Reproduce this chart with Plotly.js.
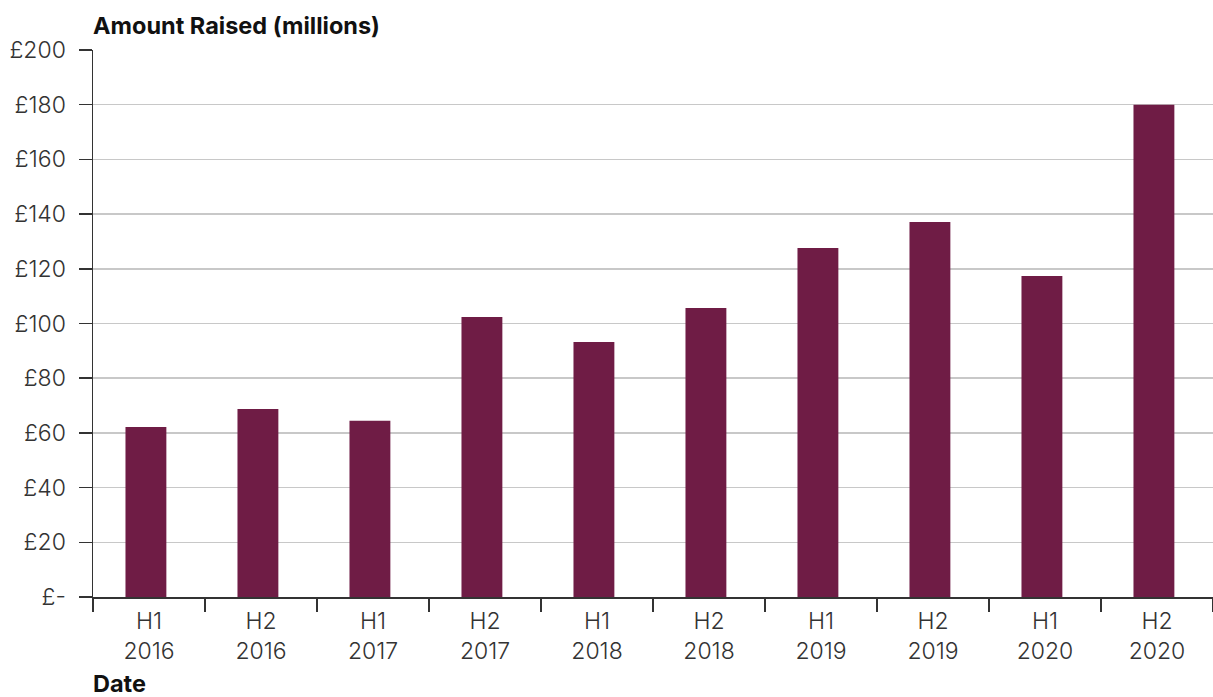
<!DOCTYPE html>
<html>
<head>
<meta charset="utf-8">
<script src="https://cdn.plot.ly/plotly-3.0.1.min.js"></script>
<style>html,body{margin:0;padding:0;background:#fff;}#chart{width:1213px;height:697px;}</style>
</head>
<body>
<div id="chart"></div>
<script>
const categories = ["H1<br>2016","H2<br>2016","H1<br>2017","H2<br>2017","H1<br>2018","H2<br>2018","H1<br>2019","H2<br>2019","H1<br>2020","H2<br>2020"];
const amountRaised = [62.2, 68.7, 64.4, 102.4, 93.2, 105.7, 127.6, 137.1, 117.4, 180];
const yTickVals = [0, 20, 40, 60, 80, 100, 120, 140, 160, 180, 200];
const yTickText = ["£-", "£20", "£40", "£60", "£80", "£100", "£120", "£140", "£160", "£180", "£200"];
const yTitle = "Amount Raised (millions)";
const xTitle = "Date";

const font = "Inter, 'Open Sans', sans-serif";
const trace = {
  type: "bar",
  x: categories,
  y: amountRaised,
  width: 0.365,
  offset: -0.21,
  marker: {color: "#6f1c45"},
  hoverinfo: "skip"
};
const layout = {
  width: 1213, height: 697,
  margin: {l: 93, r: 0, t: 50, b: 100},
  paper_bgcolor: "#fff", plot_bgcolor: "#fff",
  showlegend: false,
  font: {family: font, color: "#333", size: 23},
  xaxis: {
    type: "category",
    tickson: "boundaries",
    ticks: "outside", ticklen: 13, tickwidth: 1.5, tickcolor: "#333",
    showline: true, linecolor: "#333", linewidth: 1.5,
    showgrid: false, zeroline: false,
    tickfont: {family: font, size: 23, color: "#333", weight: 300},
    ticklabelstandoff: 3
  },
  yaxis: {
    range: [0, 200],
    tickvals: yTickVals, ticktext: yTickText,
    ticks: "outside", ticklen: 13, tickwidth: 1.5, tickcolor: "#333",
    showline: true, linecolor: "#333", linewidth: 1.5,
    showgrid: true, gridcolor: "#c8c8c8", gridwidth: 1.5,
    zeroline: false,
    tickfont: {family: font, size: 23, color: "#333", weight: 300},
    ticklabelstandoff: 8
  },
  annotations: [
    {text: "<b>" + yTitle + "</b>", xref: "paper", yref: "paper", x: 0, y: 1, xanchor: "left", yanchor: "bottom", yshift: 8, xshift: -2, showarrow: false, font: {family: font, size: 23.5, color: "#111", weight: 600}},
    {text: "<b>" + xTitle + "</b>", xref: "paper", yref: "paper", x: 0, y: 0, xanchor: "left", yanchor: "top", yshift: -70, xshift: -2, showarrow: false, font: {family: font, size: 23.5, color: "#111", weight: 600}}
  ]
};
Plotly.newPlot("chart", [trace], layout, {displayModeBar: false, staticPlot: true});
</script>
</body>
</html>
